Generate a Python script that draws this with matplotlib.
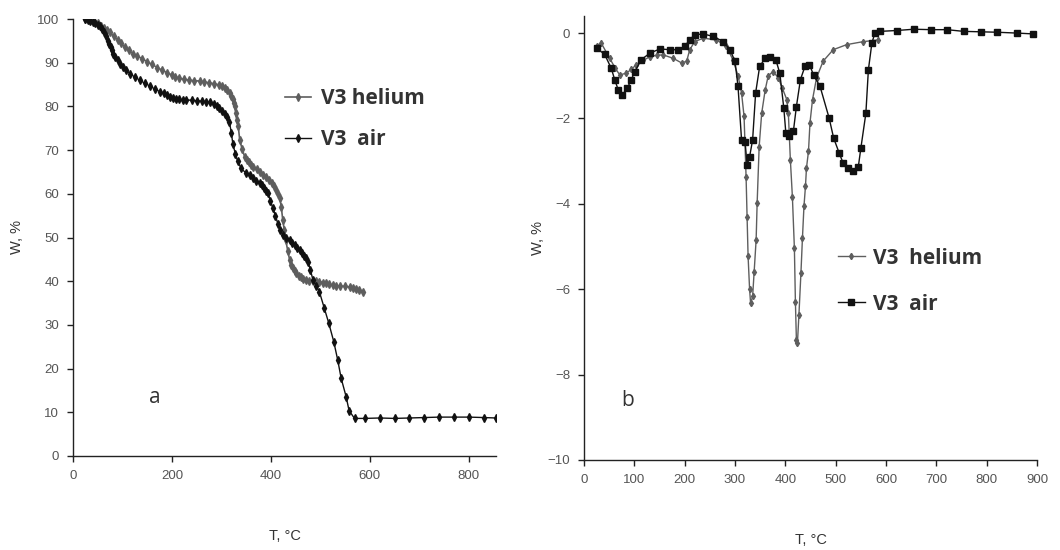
import matplotlib
matplotlib.use("Agg")
import matplotlib.pyplot as plt

# --- TG: mass (W, %) vs temperature ---
tg_he_T = [24, 30, 35, 42, 50, 56, 62, 68, 74, 82, 90, 97, 105, 113, 121, 130, 140, 150, 160,
           170, 180, 190, 200, 207, 215, 225, 235, 245, 256, 265, 275, 285, 296, 302, 307,
           312, 317, 320, 323, 325, 327, 329, 331, 334, 337, 342, 347, 351, 355, 360, 364,
           371, 378, 385, 391, 397, 402, 407, 411, 415, 418, 421, 424, 427, 430, 434, 438,
           441, 444, 448, 451, 456, 460, 465, 471, 478, 485, 492, 498, 505, 512, 518, 525,
           532, 540, 550, 559, 565, 572, 579, 586]
tg_he_W = [100, 99.9, 99.7, 99.4, 99.0, 98.5, 98.0, 97.5, 97.0, 96.1, 95.3, 94.4, 93.6, 92.8,
           92.1, 91.5, 90.9, 90.2, 89.6, 88.9, 88.3, 87.7, 87.2, 86.8, 86.4, 86.2, 86.0, 85.9,
           85.8, 85.6, 85.4, 85.2, 84.9, 84.6, 84.2, 83.7, 83.0, 82.4, 81.6, 80.8, 80.0, 78.5,
           76.9, 75.5, 72.3, 70.2, 68.5, 67.8, 67.3, 66.7, 66.2, 65.6, 65.0, 64.4, 63.9, 63.2,
           62.5, 61.7, 60.9, 60.0, 59.0, 57.0, 54.0, 51.8, 49.4, 47.0, 44.8, 43.8, 43.0, 42.3,
           41.8, 41.3, 40.9, 40.6, 40.3, 40.1, 40.0, 40.0, 39.9, 39.7, 39.5, 39.3, 39.1, 39.0,
           38.9, 38.8, 38.7, 38.5, 38.3, 38.0, 37.6]

tg_air_T = [24, 30, 35, 40, 45, 50, 54, 58, 62, 66, 70, 73, 76, 79, 81, 85, 90, 95, 101, 108,
            115, 125, 135, 145, 155, 165, 175, 183, 190, 196, 202, 208, 215, 222, 229, 240,
            250, 260, 269, 277, 285, 291, 296, 302, 307, 312, 316, 320, 323, 328, 333, 340,
            350, 357, 364, 370, 377, 382, 387, 391, 394, 399, 404, 409, 414, 419, 424, 430,
            438, 443, 448, 453, 458, 463, 467, 471, 475, 480, 485, 492, 498, 508, 517, 527,
            535, 542, 552, 558, 569, 590, 620, 650, 680, 710, 740, 770, 800, 830, 855]
tg_air_W = [100, 99.8, 99.6, 99.3, 99.0, 98.7, 98.4, 97.8, 97.0, 96.0, 95.0, 94.3, 93.6, 92.8,
            92.1, 91.4, 90.6, 89.8, 89.1, 88.3, 87.5, 86.7, 86.0, 85.3, 84.7, 84.0, 83.4, 83.0,
            82.6, 82.2, 81.9, 81.7, 81.6, 81.5, 81.5, 81.4, 81.3, 81.2, 81.1, 80.9, 80.6, 80.2,
            79.6, 79.0, 78.3, 77.5, 76.5, 74.0, 71.5, 69.2, 67.4, 65.8, 64.7, 64.2, 63.6, 63.0,
            62.4, 61.9, 61.3, 60.7, 60.1, 58.4, 56.7, 55.0, 53.2, 51.8, 50.6, 49.8, 49.4, 48.8,
            48.3, 47.7, 47.1, 46.5, 45.8, 45.2, 44.5, 42.5, 40.3, 38.9, 37.6, 33.8, 30.4, 26.2,
            22.0, 17.8, 13.6, 10.4, 8.6, 8.6, 8.7, 8.6, 8.7, 8.8, 8.9, 8.9, 8.9, 8.8, 8.7]

# --- DTG: derivative (W, %) vs temperature ---
dtg_he_T = [25, 34, 51, 62, 71, 84, 94, 104, 118, 131, 145, 157, 177, 194, 204, 210, 220,
            237, 263, 283, 296, 306, 313, 318, 322, 324, 326, 329, 331, 335, 338, 342, 344,
            348, 353, 360, 366, 376, 386, 394, 403, 406, 410, 414, 418, 420, 422, 424, 427,
            431, 434, 437, 440, 442, 446, 449, 454, 462, 475, 495, 522, 555, 585]
dtg_he_D = [-0.31, -0.23, -0.59, -0.82, -0.98, -0.94, -0.85, -0.74, -0.64, -0.55, -0.52,
            -0.51, -0.59, -0.70, -0.66, -0.39, -0.20, -0.12, -0.16, -0.31, -0.63, -1.00,
            -1.40, -1.95, -3.36, -4.30, -5.23, -6.00, -6.33, -6.17, -5.60, -4.84, -3.98,
            -2.66, -1.88, -1.33, -1.00, -0.90, -1.05, -1.29, -1.56, -1.88, -2.97, -3.83,
            -5.04, -6.29, -7.19, -7.27, -6.60, -5.62, -4.80, -4.06, -3.59, -3.16, -2.77,
            -2.10, -1.56, -1.05, -0.66, -0.39, -0.27, -0.20, -0.16]

dtg_air_T = [25, 41, 54, 61, 68, 76, 86, 94, 101, 114, 131, 151, 170, 187, 200, 210, 220,
             237, 257, 277, 290, 300, 306, 313, 320, 324, 329, 335, 341, 349, 360, 369, 381,
             389, 397, 401, 408, 416, 422, 430, 439, 448, 456, 469, 487, 496, 507, 515, 525,
             535, 545, 550, 560, 565, 572, 578, 588, 621, 655, 690, 721, 754, 788, 820, 860,
             893]
dtg_air_D = [-0.35, -0.50, -0.82, -1.09, -1.33, -1.45, -1.29, -1.09, -0.90, -0.62, -0.47,
             -0.37, -0.39, -0.39, -0.31, -0.16, -0.04, -0.02, -0.08, -0.20, -0.39, -0.66,
             -1.25, -2.50, -2.54, -3.09, -2.90, -2.50, -1.40, -0.78, -0.59, -0.55, -0.62,
             -0.94, -1.76, -2.34, -2.42, -2.30, -1.72, -1.09, -0.78, -0.74, -0.98, -1.25,
             -1.99, -2.46, -2.81, -3.05, -3.16, -3.24, -3.13, -2.70, -1.88, -0.86, -0.23,
             0.00, 0.04, 0.06, 0.09, 0.08, 0.08, 0.04, 0.03, 0.02, 0.00, -0.02]

tg_labels = ["V3 helium", "V3  air"]
dtg_labels = ["V3  helium", "V3  air"]
x_label = "T, °C"
y_label = "W, %"

HE_COLOR = "#5e5e5e"
AIR_COLOR = "#111111"
TICK_COLOR = "#555555"
TEXT_COLOR = "#333333"
LEGEND_PROP = {"family": "Open Sans", "weight": "bold", "size": 15}

plt.rcParams["font.family"] = ["Liberation Sans", "DejaVu Sans"]

fig = plt.figure(figsize=(10.6, 5.5), dpi=100)
ax1 = fig.add_axes([73 / 1060, 1 - 456 / 550, 423 / 1060, 437 / 550])
ax2 = fig.add_axes([584 / 1060, 1 - 460 / 550, 453 / 1060, 444 / 550])


def style_axis(ax):
    for side in ("top", "right"):
        ax.spines[side].set_visible(False)
    for side in ("left", "bottom"):
        ax.spines[side].set_color("#222222")
        ax.spines[side].set_linewidth(1.0)
    ax.tick_params(axis="both", direction="out", length=4, width=1, color="#222222",
                   labelsize=9.5, labelcolor=TICK_COLOR, pad=6)


# Panel a: thermogravimetric curves
ax1.plot(tg_he_T, tg_he_W, color=HE_COLOR, lw=1.2, marker="d", ms=3.8,
         mec=HE_COLOR, mfc=HE_COLOR, label=tg_labels[0])
ax1.plot(tg_air_T, tg_air_W, color=AIR_COLOR, lw=1.0, marker="d", ms=3.6,
         mec=AIR_COLOR, mfc=AIR_COLOR, label=tg_labels[1])
ax1.set_xlim(0, 855)
ax1.set_ylim(0, 100)
ax1.set_xticks([0, 200, 400, 600, 800])
ax1.set_yticks(range(0, 101, 10))
style_axis(ax1)
ax1.set_xlabel(x_label, fontsize=10.5, color=TEXT_COLOR, labelpad=34)
ax1.set_ylabel(y_label, fontsize=10.5, color=TEXT_COLOR, labelpad=9)
ax1.text(166, 13.3, "a", fontsize=15, color=TEXT_COLOR, family="Open Sans",
         ha="center", va="center")
leg1 = ax1.legend(loc="upper left", bbox_to_anchor=(0.502, 0.842), frameon=False,
                  handlelength=1.25, handletextpad=0.45, labelspacing=0.95,
                  borderpad=0, borderaxespad=0, prop=LEGEND_PROP)
for t in leg1.get_texts():
    t.set_color(TEXT_COLOR)

# Panel b: derivative curves
ax2.plot(dtg_he_T, dtg_he_D, color=HE_COLOR, lw=1.0, marker="d", ms=3.2,
         mec=HE_COLOR, mfc=HE_COLOR, label=dtg_labels[0])
ax2.plot(dtg_air_T, dtg_air_D, color=AIR_COLOR, lw=1.0, marker="s", ms=4,
         mec=AIR_COLOR, mfc=AIR_COLOR, label=dtg_labels[1])
ax2.set_xlim(0, 900)
ax2.set_ylim(-10, 0.4)
ax2.set_xticks(range(0, 901, 100))
ax2.set_yticks([-10, -8, -6, -4, -2, 0])
style_axis(ax2)
ax2.set_xlabel(x_label, fontsize=10.5, color=TEXT_COLOR, labelpad=34)
ax2.set_ylabel(y_label, fontsize=10.5, color=TEXT_COLOR, labelpad=2)
ax2.text(87, -8.6, "b", fontsize=15, color=TEXT_COLOR, family="Open Sans",
         ha="center", va="center")
leg2 = ax2.legend(loc="upper left", bbox_to_anchor=(0.56, 0.478), frameon=False,
                  handlelength=1.3, handletextpad=0.4, labelspacing=1.2,
                  borderpad=0, borderaxespad=0, prop=LEGEND_PROP)
for t in leg2.get_texts():
    t.set_color(TEXT_COLOR)

fig.savefig("out.png", dpi=100)
